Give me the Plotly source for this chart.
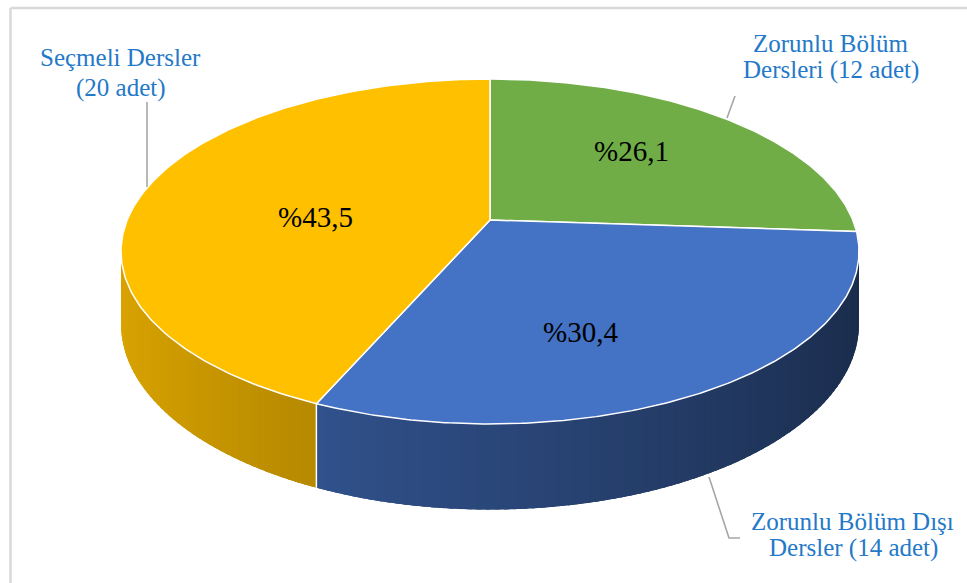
import numpy as np
import plotly.graph_objects as go

# ---------------- data ----------------
categories = ["Zorunlu Bölüm Dersleri", "Zorunlu Bölüm Dışı Dersler", "Seçmeli Dersler"]
counts = [12, 14, 20]
pct_labels = ["%26,1", "%30,4", "%43,5"]
label_line1 = ["Zorunlu Bölüm", "Zorunlu Bölüm Dışı", "Seçmeli Dersler"]
label_line2 = ["Dersleri (12 adet)", "Dersler (14 adet)", "(20 adet)"]
colors = ["#70AD47", "#4472C4", "#FFC000"]

# ---------------- geometry (perspective 3D pie) ----------------
W, H = 967, 583
CX, CY = 490, 220          # projected pie hub
A, B, PB = 362.8, 166.7, 0.1826
DEPTH = 70
FONT = "Liberation Serif, Times New Roman, serif"


def proj(theta_deg, drop=0.0):
    t = np.radians(theta_deg)
    u = np.sin(t)
    v = -np.cos(t)
    w = 1 - PB * v
    return CX + A * u / w, CY + (B * v + drop) / w


def shade(hexcol, f):
    h = hexcol.lstrip("#")
    r, g, b = (int(h[i:i + 2], 16) for i in (0, 2, 4))
    return "rgb(%d,%d,%d)" % (round(r * f), round(g * f), round(b * f))


total = float(sum(counts))
fracs = [c / total for c in counts]
bounds = np.concatenate([[0.0], np.cumsum(fracs) * 360.0])

fig = go.Figure()

# ---- side strips (painter's order: back to front) ----
strips = []
for i in range(len(counts)):
    s, e = bounds[i], bounds[i + 1]
    n = max(2, int(np.ceil((e - s) / 1.2)))
    edges = np.linspace(s, e, n + 1)
    for a, b in zip(edges[:-1], edges[1:]):
        m = 0.5 * (a + b)
        vm = -np.cos(np.radians(m))
        if vm < -0.3:
            continue
        um = np.sin(np.radians(m))
        f = 0.62 - 0.24 * um
        a2 = max(s, a - 0.9)
        b2 = min(e, b + 0.9)
        th = np.linspace(a2, b2, 4)
        xt, yt = proj(th)
        xd, yd = proj(th[::-1], DEPTH)
        xs = np.concatenate([xt, xd, xt[:1]])
        ys = np.concatenate([yt, yd, yt[:1]])
        strips.append((vm, xs, ys, shade(colors[i], f)))

strips.sort(key=lambda t: t[0])
for vm, xs, ys, col in strips:
    fig.add_trace(go.Scatter(x=xs, y=ys, mode="lines", fill="toself", fillcolor=col,
                             line=dict(color=col, width=0), hoverinfo="skip",
                             showlegend=False))

# vertical white edges on the side at slice boundaries in front
for bd in bounds[1:-1]:
    if -np.cos(np.radians(bd)) > 0.3:
        x0, y0 = proj(bd)
        x1, y1 = proj(bd, DEPTH)
        fig.add_trace(go.Scatter(x=[x0, x1], y=[y0, y1], mode="lines",
                                 line=dict(color="white", width=1.5),
                                 hoverinfo="skip", showlegend=False))

# ---- top faces ----
for i in range(len(counts)):
    s, e = bounds[i], bounds[i + 1]
    th = np.linspace(s, e, 200)
    xs, ys = proj(th)
    xs = np.concatenate([[CX], xs, [CX]])
    ys = np.concatenate([[CY], ys, [CY]])
    fig.add_trace(go.Scatter(x=xs, y=ys, mode="lines", fill="toself", fillcolor=colors[i],
                             line=dict(color="white", width=1.5), hoverinfo="text",
                             text=categories[i], showlegend=False))

# ---- percentage labels ----
pct_pos = [(631, 151), (580, 332), (315, 217)]
for (px, py), t in zip(pct_pos, pct_labels):
    fig.add_annotation(x=px, y=py, text=t, showarrow=False, xanchor="center", yanchor="middle",
                       font=dict(family=FONT, size=29, color="black"))

# ---- category labels ----
lab_color = "#2479C8"
lab_pos = [((830, 43), (831, 70)), ((852, 521), (853, 548)), ((120, 57), (121, 88))]
for (p1, p2), l1, l2 in zip(lab_pos, label_line1, label_line2):
    fig.add_annotation(x=p1[0], y=p1[1], text=l1, showarrow=False, xanchor="center",
                       yanchor="middle", font=dict(family=FONT, size=25, color=lab_color))
    fig.add_annotation(x=p2[0], y=p2[1], text=l2, showarrow=False, xanchor="center",
                       yanchor="middle", font=dict(family=FONT, size=25, color=lab_color))

# ---- leader lines ----
lead = dict(color="#A6A6A6", width=1.6)
fig.add_trace(go.Scatter(x=[147, 147], y=[102, 187], mode="lines", line=lead,
                         hoverinfo="skip", showlegend=False))
fig.add_trace(go.Scatter(x=[735, 727], y=[96, 118], mode="lines", line=lead,
                         hoverinfo="skip", showlegend=False))
fig.add_trace(go.Scatter(x=[709, 729, 740], y=[477, 538, 538], mode="lines", line=lead,
                         hoverinfo="skip", showlegend=False))

# ---- chart frame (left & top visible) ----
frame = dict(color="#D9D9D9", width=2.5)
fig.add_shape(type="line", x0=10.5, x1=10.5, y0=8, y1=W, line=frame)
fig.add_shape(type="line", x0=10.5, x1=W + 5, y0=8, y1=8, line=frame)

fig.update_layout(
    width=W, height=H,
    margin=dict(l=0, r=0, t=0, b=0),
    paper_bgcolor="white", plot_bgcolor="white",
    xaxis=dict(range=[0, W], visible=False, fixedrange=True),
    yaxis=dict(range=[H, 0], visible=False, fixedrange=True),
    showlegend=False,
)

fig.write_html("out.html")
